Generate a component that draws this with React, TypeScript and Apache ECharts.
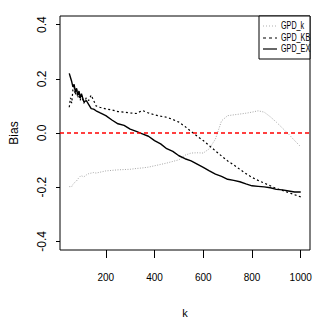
import React, { useEffect, useRef } from "react";
import * as echarts from "echarts";

const kValues = [50,55,60,65,70,75,80,85,90,95,100,110,120,130,140,150,160,175,200,225,250,275,300,325,350,375,400,425,450,475,500,525,550,575,600,625,650,675,700,725,750,775,800,825,850,875,900,925,950,975,1000];

const gpdK = [-0.198,-0.198,-0.198,-0.19,-0.185,-0.18,-0.177,-0.17,-0.165,-0.16,-0.158,-0.162,-0.155,-0.15,-0.148,-0.146,-0.148,-0.145,-0.14,-0.138,-0.136,-0.135,-0.134,-0.131,-0.129,-0.126,-0.121,-0.116,-0.111,-0.105,-0.099,-0.082,-0.074,-0.073,-0.074,-0.058,-0.022,0.045,0.064,0.067,0.07,0.073,0.077,0.082,0.077,0.06,0.04,0.018,-0.004,-0.028,-0.051];

const gpdKB = [0.095,0.13,0.11,0.16,0.17,0.14,0.16,0.13,0.15,0.12,0.14,0.11,0.13,0.12,0.14,0.12,0.1,0.095,0.089,0.085,0.079,0.077,0.074,0.072,0.083,0.074,0.067,0.062,0.058,0.05,0.04,0.024,0.006,-0.012,-0.028,-0.047,-0.066,-0.085,-0.103,-0.118,-0.134,-0.15,-0.164,-0.175,-0.185,-0.195,-0.205,-0.212,-0.22,-0.228,-0.236];

const gpdEX = [0.22,0.205,0.19,0.17,0.18,0.15,0.165,0.14,0.155,0.13,0.145,0.115,0.12,0.105,0.09,0.088,0.082,0.075,0.064,0.048,0.034,0.028,0.014,0.006,-0.003,-0.012,-0.028,-0.04,-0.058,-0.068,-0.084,-0.095,-0.103,-0.115,-0.127,-0.14,-0.152,-0.16,-0.171,-0.175,-0.18,-0.188,-0.195,-0.197,-0.199,-0.202,-0.208,-0.21,-0.214,-0.218,-0.218];

const xTicks = [200, 400, 600, 800, 1000];
const yTicks = [-0.4, -0.2, 0, 0.2, 0.4];
const seriesNames = ["GPD_k", "GPD_KB", "GPD_EX"];

const pair = (ys: number[]) => kValues.map((k, i) => [k, ys[i]]);

export default function App() {
  const ref = useRef<HTMLDivElement>(null);
  useEffect(() => {
    if (!ref.current) return;
    document.body.style.margin = "0";
    const chart = echarts.init(ref.current, null, { renderer: "svg" });
    const reg = "'Liberation Sans', Arial, sans-serif";
    const legendX = 259;
    const legendRows = [26, 38, 49];
    const legendStyles = [
      { stroke: "#b0b0b0", lineDash: [1, 2] },
      { stroke: "#000", lineDash: [3, 3] },
      { stroke: "#000", lineDash: null as any },
    ];
    chart.setOption({
      animation: false,
      backgroundColor: "#fff",
      grid: { left: 42, right: 10, top: 16, bottom: 77, show: true, borderColor: "#000", borderWidth: 1, backgroundColor: "transparent" },
      xAxis: {
        type: "value",
        min: 12,
        max: 1038,
        name: "k",
        nameLocation: "middle",
        nameGap: 57,
        nameTextStyle: { fontFamily: reg, fontSize: 11, color: "#000" },
        axisLine: { show: false, onZero: false },
        axisTick: { show: true, customValues: xTicks, length: 8, lineStyle: { color: "#000" } },
        axisLabel: { customValues: xTicks, margin: 22, fontFamily: reg, fontSize: 10, color: "#000", formatter: (v: number) => String(v) },
        splitLine: { show: false },
      },
      yAxis: {
        type: "value",
        min: -0.432,
        max: 0.432,
        name: "Bias",
        nameLocation: "middle",
        nameGap: 40,
        nameRotate: 90,
        nameTextStyle: { fontFamily: reg, fontSize: 12, color: "#000" },
        axisLine: { show: false, onZero: false },
        axisTick: { show: true, customValues: yTicks, length: 4, lineStyle: { color: "#000" } },
        axisLabel: {
          customValues: yTicks,
          rotate: 90,
          margin: 12,
          fontFamily: reg,
          fontSize: 12,
          color: "#000",
          formatter: (v: number) => v.toFixed(1),
        },
        splitLine: { show: false },
      },
      series: [
        {
          name: seriesNames[0],
          type: "line",
          data: pair(gpdK),
          showSymbol: false,
          lineStyle: { color: "#a8a8a8", width: 1, type: [1, 1.5] },
          markLine: {
            silent: true,
            symbol: "none",
            label: { show: false },
            lineStyle: { color: "#ff0000", type: [4, 3], width: 1.5 },
            data: [{ yAxis: 0 }],
          },
        },
        {
          name: seriesNames[1],
          type: "line",
          data: pair(gpdKB),
          showSymbol: false,
          lineStyle: { color: "#000", width: 1.2, type: [2, 2.5] },
        },
        {
          name: seriesNames[2],
          type: "line",
          data: pair(gpdEX),
          showSymbol: false,
          lineStyle: { color: "#000", width: 1.4 },
        },
      ],
      graphic: [
        {
          type: "rect",
          shape: { x: legendX, y: 16, width: 51, height: 43 },
          style: { fill: "#fff", stroke: "#000", lineWidth: 1 },
          z: 10,
        },
        ...legendRows.flatMap((y, i) => [
          {
            type: "line",
            shape: { x1: legendX + 4, y1: y, x2: legendX + 18, y2: y },
            style: { stroke: legendStyles[i].stroke, lineWidth: 1.2, lineDash: legendStyles[i].lineDash },
            z: 11,
          },
          {
            type: "text",
            x: legendX + 22,
            y: y,
            scaleX: 0.72,
            style: { text: seriesNames[i], fontFamily: reg, fontSize: 10, fill: "#000", verticalAlign: "middle" },
            z: 11,
          },
        ]),
      ],
    });
    return () => chart.dispose();
  }, []);
  return <div ref={ref} style={{ width: 320, height: 327 }} />;
}
